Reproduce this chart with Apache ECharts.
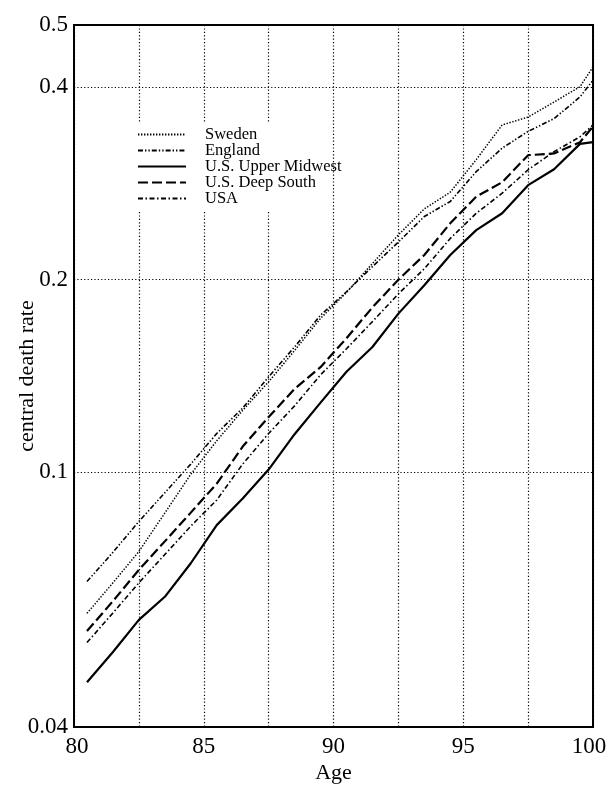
<!DOCTYPE html>
<html>
<head>
<meta charset="utf-8">
<script src="https://cdn.jsdelivr.net/npm/echarts@6/dist/echarts.min.js"></script>
<style>
html,body{margin:0;padding:0;background:#fff;}
#chart{width:608px;height:787px;}
</style>
</head>
<body>
<div id="chart"></div>
<script>
var ages = [80.5,81.5,82.5,83.5,84.5,85.5,86.5,87.5,88.5,89.5,90.5,91.5,92.5,93.5,94.5,95.5,96.5,97.5,98.5,99.5,100];
var sweden = [0.0602,0.0672,0.0752,0.0864,0.0993,0.112,0.125,0.1385,0.155,0.174,0.191,0.212,0.235,0.258,0.274,0.308,0.349,0.359,0.379,0.4005,0.43];
var england = [0.0675,0.075,0.0838,0.0929,0.103,0.115,0.126,0.141,0.157,0.176,0.1915,0.2096,0.229,0.251,0.265,0.295,0.321,0.341,0.357,0.386,0.41];
var upperMidwest = [0.047,0.0524,0.0588,0.0639,0.0721,0.0827,0.091,0.101,0.1147,0.1285,0.1436,0.157,0.177,0.196,0.2186,0.239,0.254,0.281,0.2975,0.326,0.328];
var deepSouth = [0.0565,0.0629,0.0704,0.078,0.0865,0.096,0.1097,0.122,0.135,0.146,0.162,0.181,0.200,0.2186,0.245,0.2696,0.284,0.313,0.315,0.328,0.347];
var usa = [0.0542,0.0603,0.0672,0.0744,0.0824,0.0905,0.103,0.115,0.127,0.142,0.156,0.172,0.190,0.208,0.232,0.254,0.273,0.297,0.317,0.3345,0.349];
var seriesNames = ['Sweden','England','U.S. Upper Midwest','U.S. Deep South','USA'];
var yTickLabels = [0.04,0.1,0.2,0.4,0.5];
var yGridValues = [0.1,0.2,0.4];
var xLabelStep = 5;

var FONT = 'Liberation Serif';
function pairs(vals){ return ages.map(function(a,i){ return [a, vals[i]]; }); }
var styles = [
  {type:[1.4,1.6], width:1.5},
  {type:[5,2,1.4,2,1.4,2], width:1.6},
  {type:'solid', width:2.2},
  {type:[10,4], width:2.2},
  {type:[5,2.5,1.5,2.5], width:1.6}
];
var datasets = [sweden, england, upperMidwest, deepSouth, usa];
var series = datasets.map(function(d,i){
  return {
    name: seriesNames[i], type:'line', data: pairs(d), symbol:'none', showSymbol:false, clip:true,
    lineStyle:{color:'#000', width:styles[i].width, type:styles[i].type, cap:'butt'},
    itemStyle:{color:'#000'}, animation:false
  };
});

var chart = echarts.init(document.getElementById('chart'), null, {renderer:'canvas'});
chart.setOption({
  backgroundColor:'#fff',
  animation:false,
  grid:{left:74, right:15, top:25, bottom:60, containLabel:false, outerBoundsMode:'none',
    show:true, borderColor:'#000', borderWidth:2, backgroundColor:'transparent'},
  graphic:[{type:'rect', shape:{x:128, y:122, width:180, height:90}, style:{fill:'#fff'}, z:3, silent:true}],
  legend:{
    orient:'vertical', left:137, top:126, padding:0, itemGap:-1,
    itemWidth:48, itemHeight:12, z:4,
    data: seriesNames,
    itemStyle:{opacity:0},
    textStyle:{fontFamily:FONT, fontSize:16.5, color:'#000', lineHeight:16, padding:[0,0,0,14]}
  },
  xAxis:{
    type:'value', min:80, max:100, interval:2.5,
    name:'Age', nameLocation:'middle', nameGap:35, nameMoveOverlap:false,
    nameTextStyle:{fontFamily:FONT, fontSize:22, color:'#000'},
    axisLine:{show:true, lineStyle:{color:'#000', width:2}},
    axisTick:{show:false},
    axisLabel:{fontFamily:FONT, fontSize:23, color:'#000', margin:8,
      formatter:function(v){
        if (Math.abs(v % xLabelStep) > 1e-9) return '';
        if (v === 80) return '{first|' + v + '}';
        if (v === 100) return '{last|' + v + '}';
        return String(v);
      },
      rich:{
        first:{fontFamily:FONT, fontSize:23, color:'#000', padding:[0,0,0,6]},
        last:{fontFamily:FONT, fontSize:23, color:'#000', padding:[0,8,0,0]}
      }},
    splitLine:{show:true, lineStyle:{color:'#000', width:1.2, type:[1.2,2.2]}}
  },
  yAxis:{
    type:'log', logBase:10, min:0.04, max:0.5,
    name:'central death rate', nameLocation:'middle', nameGap:36, nameRotate:90, nameMoveOverlap:false,
    nameTextStyle:{fontFamily:FONT, fontSize:22, color:'#000'},
    axisLine:{show:true, lineStyle:{color:'#000', width:2}},
    axisTick:{show:false, customValues: yGridValues},
    axisLabel:{fontFamily:FONT, fontSize:23, color:'#000', margin:6, customValues: yTickLabels,
      formatter:function(v){ return String(+(+v).toPrecision(3)); }},
    splitLine:{show:true, lineStyle:{color:'#000', width:1.2, type:[1.2,2.2]}}
  },
  series: series
});
</script>
</body>
</html>
